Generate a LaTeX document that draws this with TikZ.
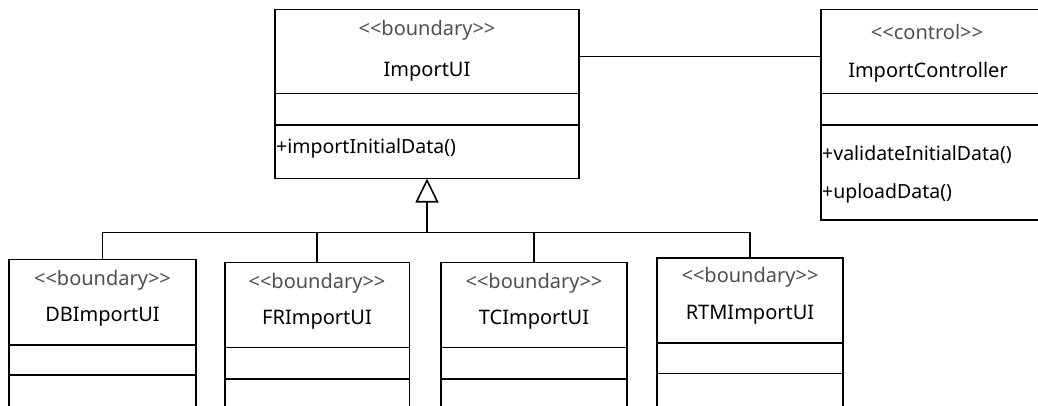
\documentclass[tikz,border=0pt]{standalone}
\usepackage{fontspec}
\setmainfont{Noto Sans}
\usetikzlibrary{arrows.meta}
\definecolor{stereo}{HTML}{505050}
% guillemet-free stereotype brackets
\newcommand{\stl}{<\kern0pt<}
\newcommand{\str}{>\kern0pt>}
\begin{document}
\begin{tikzpicture}[x=1pt,y=-1pt,
  cls/.style={draw=black, line width=1.6pt, fill=white, rectangle, inner sep=0pt, outer sep=0pt},
  sep/.style={line width=1.6pt},
  stereotype/.style={text=stereo, font=\fontsize{20}{23}\selectfont, inner sep=0pt, anchor=center},
  clsname/.style={text=black, font=\fontsize{20}{23}\selectfont, inner sep=0pt, anchor=center},
  member/.style={text=black, font=\fontsize{19.5}{22}\selectfont, inner sep=0pt, anchor=west},
  link/.style={line width=1.6pt},
  gen/.style={line width=1.6pt, -{Triangle[open, length=24pt, width=23pt, line width=1.6pt]}}]
\useasboundingbox (0,0) rectangle (1038,406);
\fill[white] (0,0) rectangle (1038,406);
\clip (0,0) rectangle (1038,406);

% class box: name, left, top, right, bottom, first and second compartment line
\newcommand{\umlclass}[7]{%
  \node[cls, minimum width={#4-#2}, minimum height={#5-#3}] (#1) at ({(#2+#4)/2},{(#3+#5)/2}) {};
  \draw[sep] (#2,#6) -- (#4,#6);
  \draw[sep] (#2,#7) -- (#4,#7);
}

% parent boundary and the controller
\umlclass{imp}{275}{9.5}{579}{178.5}{93.5}{125}
\umlclass{ctl}{821}{9.5}{1050}{220}{93.5}{125}

% specialised boundaries (cut off at the bottom)
\umlclass{db}{9}{259.5}{196}{420}{345}{375}
\umlclass{fr}{225}{262.5}{409.5}{420}{347.5}{379}
\umlclass{tc}{441}{262.5}{627}{420}{347.5}{379}
\umlclass{rtm}{657}{258}{843}{420}{343}{373.5}

% texts
\node[stereotype] (impst) at (427,30) {\stl boundary\str};
\node[clsname] (impnm) at (427,72) {ImportUI};
\node[member] (impm1) at (276,148) {+importInitialData()};

\node[stereotype] (ctlst) at (927,32) {\stl control\str};
\node[clsname] (ctlnm) at (928,72) {ImportController};
\node[member] (ctlm1) at (822,155) {+validateInitialData()};
\node[member] (ctlm2) at (822,193) {+uploadData()};

\node[stereotype] (dbst) at (102.5,280) {\stl boundary\str};
\node[clsname] (dbnm) at (102.5,317) {DBImportUI};
\node[stereotype] (frst) at (317,283) {\stl boundary\str};
\node[clsname] (frnm) at (317,320) {FRImportUI};
\node[stereotype] (tcst) at (534,283) {\stl boundary\str};
\node[clsname] (tcnm) at (534,320) {TCImportUI};
\node[stereotype] (rtmst) at (750,277) {\stl boundary\str};
\node[clsname] (rtmnm) at (750,315) {RTMImportUI};

% association
\coordinate (assoc) at (0,56.7);
\draw[link] (imp.east |- assoc) -- (ctl.west |- assoc);

% generalisation tree
\coordinate (bus) at (427,232.5);
\draw[gen] (bus) -- (imp.south);
\draw[link] (db.north) |- (bus);
\draw[link] (fr.north) |- (bus);
\draw[link] (tc.north) |- (bus);
\draw[link] (rtm.north) |- (bus);
\end{tikzpicture}
\end{document}
